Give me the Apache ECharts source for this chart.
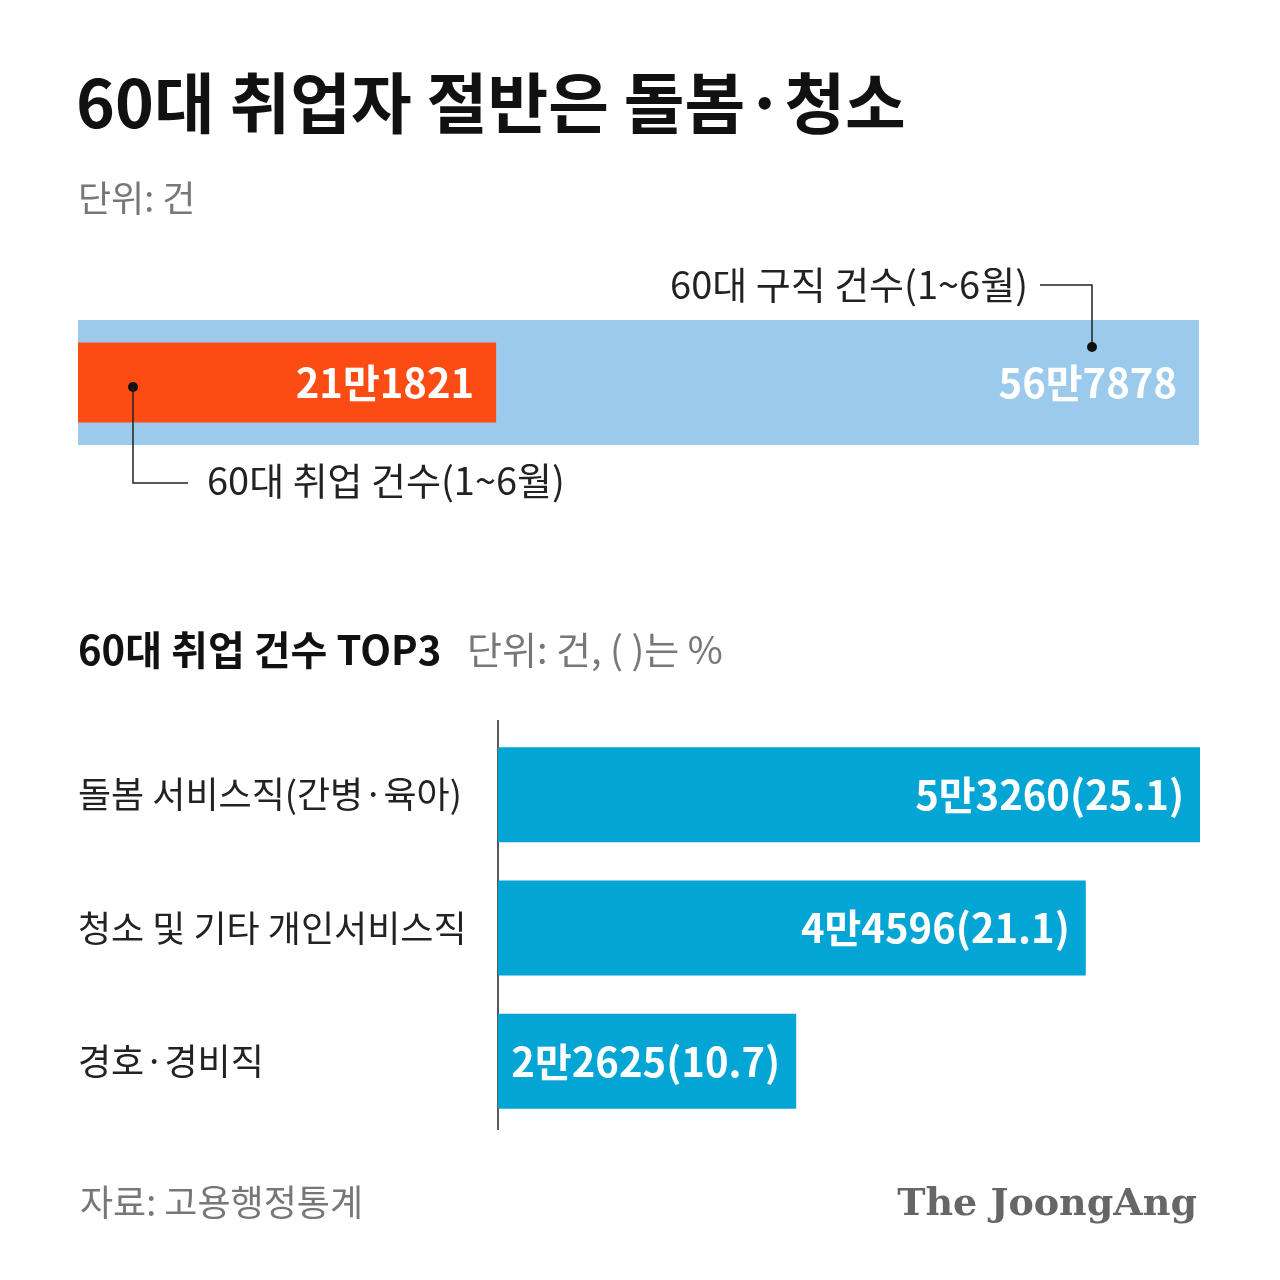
<!DOCTYPE html>
<html><head><meta charset="utf-8">
<script src="https://cdn.jsdelivr.net/npm/echarts@6/dist/echarts.min.js"></script>
<style>html,body{margin:0;background:#fff}#c{width:1280px;height:1280px}</style>
</head><body><div id="c"></div>
<script>
const jobSeek = 567878;
const jobGet = 211821;
const categories = ['돌봄 서비스직(간병·육아)', '청소 및 기타 개인서비스직', '경호·경비직'];
const counts = [53260, 44596, 22625];
const shares = [25.1, 21.1, 10.7];
const F = '"Noto Sans CJK KR", "Noto Sans", sans-serif';
const fmt = v => Math.floor(v / 10000) + '만' + (v % 10000);
const chart = echarts.init(document.getElementById('c'));
chart.setOption({
  animation: false,
  textStyle: { fontFamily: F },
  grid: [
    { left: 78, right: 81, top: 320, height: 125 },
    { left: 498, right: 80, top: 728, height: 400 }
  ],
  xAxis: [
    { gridIndex: 0, type: 'value', min: 0, max: jobSeek, show: false },
    { gridIndex: 1, type: 'value', min: 0, max: counts[0], show: false }
  ],
  yAxis: [
    { gridIndex: 0, type: 'category', data: ['a'], show: false },
    { gridIndex: 1, type: 'category', data: categories, inverse: true,
      axisLine: { show: false }, axisTick: { show: false },
      axisLabel: { align: 'left', margin: 420, color: '#222', fontSize: 36, fontFamily: F } },
    { gridIndex: 0, type: 'category', data: ['a'], show: false }
  ],
  series: [
    { type: 'bar', xAxisIndex: 0, yAxisIndex: 0, data: [jobSeek], barWidth: 125,
      itemStyle: { color: '#9ccaec' }, silent: true,
      label: { show: true, position: 'insideRight', distance: 22, formatter: p => fmt(p.value),
        color: '#fff', fontSize: 40, fontWeight: 'bold', fontFamily: F } },
    { type: 'bar', xAxisIndex: 0, yAxisIndex: 2, data: [jobGet], barWidth: 80,
      itemStyle: { color: '#fc4c14' }, silent: true,
      label: { show: true, position: 'insideRight', distance: 22, formatter: p => fmt(p.value),
        color: '#fff', fontSize: 40, fontWeight: 'bold', fontFamily: F } },
    { type: 'bar', xAxisIndex: 1, yAxisIndex: 1, data: counts, barWidth: 95,
      itemStyle: { color: '#02a5d3' }, silent: true,
      label: { show: true, position: 'insideRight', distance: 16,
        formatter: p => fmt(p.value) + '(' + shares[p.dataIndex] + ')',
        color: '#fff', fontSize: 40, fontWeight: 'bold', fontFamily: F } }
  ],
  graphic: [
    { type: 'text', left: 76, top: 70, style: { text: '60대 취업자 절반은 돌봄·청소', font: 'bold 66px ' + F, fill: '#111' } },
    { type: 'text', left: 78, top: 180, style: { text: '단위: 건', font: '36px ' + F, fill: '#777' } },
    { type: 'text', right: 252, top: 266, style: { text: '60대 구직 건수(1~6월)', font: '38px ' + F, fill: '#222' } },
    { type: 'polyline', z: 100, shape: { points: [[1040, 285], [1092, 285], [1092, 347]] }, style: { stroke: '#222', lineWidth: 1.5, fill: null } },
    { type: 'circle', z: 100, shape: { cx: 1092, cy: 347, r: 5 }, style: { fill: '#111' } },
    { type: 'circle', z: 100, shape: { cx: 133, cy: 387, r: 5 }, style: { fill: '#111' } },
    { type: 'polyline', z: 100, shape: { points: [[133, 387], [133, 483], [188, 483]] }, style: { stroke: '#222', lineWidth: 1.5, fill: null } },
    { type: 'text', left: 207, top: 462, style: { text: '60대 취업 건수(1~6월)', font: '38px ' + F, fill: '#222' } },
    { type: 'text', left: 78, top: 630, style: { text: '60대 취업 건수 TOP3', font: 'bold 40px ' + F, fill: '#111' } },
    { type: 'text', left: 467, top: 631, style: { text: '단위: 건, ( )는 %', font: '38px ' + F, fill: '#777' } },
    { type: 'line', shape: { x1: 498, y1: 720, x2: 498, y2: 1130 }, style: { stroke: '#222', lineWidth: 1.5 } },
    { type: 'text', left: 80, top: 1184, style: { text: '자료: 고용행정통계', font: '36px ' + F, fill: '#777' } },
    { type: 'text', right: 83, top: 1186, style: { text: 'The JoongAng', font: 'bold 38px "DejaVu Serif", "Liberation Serif", serif', fill: '#666' } }
  ]
});
</script></body></html>
